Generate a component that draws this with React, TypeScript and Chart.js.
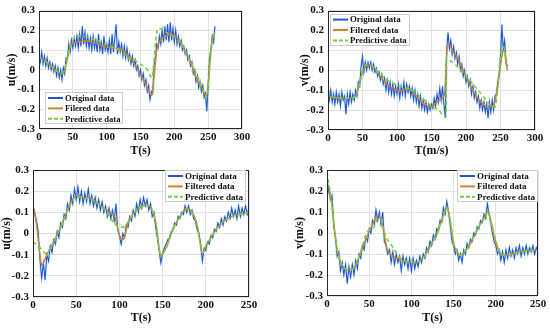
import React, { useEffect, useRef } from 'react';
import { Chart, registerables } from 'chart.js';
Chart.register(...registerables);

// ---------- data ----------
const ORIG_STEP = 2; // seconds between original samples

// Top-left: u(m/s), 0..260 s
const tlOrig = [
  0.08, 0.04, 0.09, 0.03, 0.07, 0.02, 0.06, 0.01, 0.04, 0.0,
  0.03, -0.01, 0.02, -0.03, 0.01, -0.04, 0.0, -0.05, 0.01, -0.02,
  0.06, 0.05, 0.13, 0.09, 0.15, 0.11, 0.16, 0.12, 0.17, 0.11,
  0.18, 0.12, 0.22, 0.13, 0.19, 0.12, 0.17, 0.11, 0.16, 0.10,
  0.17, 0.11, 0.15, 0.09, 0.18, 0.10, 0.14, 0.08, 0.17, 0.10,
  0.13, 0.09, 0.15, 0.08, 0.18, 0.09, 0.16, 0.23, 0.08, 0.14,
  0.09, 0.13, 0.07, 0.12, 0.06, 0.11, 0.05, 0.08, 0.03, 0.07,
  0.02, 0.05, 0.0, 0.02, -0.03, 0.0, -0.05, -0.02, -0.08, -0.05,
  -0.11, -0.08, -0.15, -0.11, -0.12, 0.02, 0.06, 0.13, 0.11, 0.17,
  0.13, 0.2, 0.14, 0.22, 0.15, 0.23, 0.14, 0.24, 0.15, 0.21,
  0.14, 0.2, 0.13, 0.17, 0.12, 0.15, 0.1, 0.12, 0.08, 0.1,
  0.05, 0.07, 0.02, 0.04, -0.02, 0.0, -0.06, -0.03, -0.09, -0.06,
  -0.11, -0.08, -0.14, -0.12, -0.21, -0.08, 0.06, 0.1, 0.17, 0.14,
  0.22,
];
const tlFiltT = [0, 10, 20, 30, 34, 38, 42, 46, 50, 60, 70, 80, 90, 100, 110, 120, 130, 139, 149, 158, 164, 167, 170, 174, 180, 188, 195, 205, 210, 215, 220, 225, 230, 235, 240, 245, 247, 250, 253, 256, 260];
const tlFiltV = [0.062, 0.042, 0.012, -0.015, -0.02, -0.005, 0.06, 0.115, 0.135, 0.143, 0.147, 0.14, 0.125, 0.115, 0.11, 0.108, 0.08, 0.04, -0.02, -0.075, -0.12, -0.13, -0.04, 0.1, 0.15, 0.172, 0.18, 0.16, 0.135, 0.1, 0.065, 0.03, -0.02, -0.06, -0.09, -0.12, -0.135, -0.08, 0.06, 0.15, 0.19];
const tlPredT = [0, 10, 20, 30, 34, 40, 46, 52, 58, 70, 80, 90, 100, 110, 120, 130, 134, 140, 150, 160, 167, 170, 173, 176, 182, 190, 200, 210, 220, 230, 240, 247, 250, 253, 256, 260];
const tlPredV = [0.062, 0.042, 0.012, -0.015, -0.02, 0.03, 0.12, 0.16, 0.172, 0.165, 0.155, 0.142, 0.128, 0.113, 0.097, 0.065, 0.055, 0.05, 0.028, 0.0, -0.04, 0.05, 0.17, 0.21, 0.205, 0.185, 0.165, 0.13, 0.07, 0.0, -0.08, -0.14, -0.09, 0.05, 0.14, 0.19];

// Top-right: v(m/s), 0..260 s
const trOrig = [
  -0.11, -0.15, -0.1, -0.16, -0.12, -0.17, -0.11, -0.16, -0.12, -0.18,
  -0.11, -0.15, -0.13, -0.22, -0.12, -0.17, -0.11, -0.16, -0.12, -0.15,
  -0.1, -0.13, -0.06, -0.08, 0.02, 0.07, -0.01, 0.04, 0.0, 0.04,
  0.01, 0.04, 0.0, 0.03, -0.01, 0.01, -0.03, -0.01, -0.05, -0.02,
  -0.07, -0.04, -0.1, -0.05, -0.11, -0.06, -0.12, -0.07, -0.13, -0.08,
  -0.12, -0.07, -0.14, -0.08, -0.12, -0.06, -0.13, -0.07, -0.11, -0.08,
  -0.13, -0.09, -0.15, -0.1, -0.16, -0.12, -0.18, -0.13, -0.19, -0.15,
  -0.2, -0.16, -0.21, -0.17, -0.2, -0.17, -0.19, -0.14, -0.18, -0.12,
  -0.16, -0.09, -0.15, -0.08, -0.17, -0.24, 0.1, 0.19, 0.11, 0.15,
  0.08, 0.12, 0.06, 0.09, 0.03, 0.07, 0.0, 0.03, -0.03, 0.0,
  -0.06, -0.03, -0.08, -0.05, -0.12, -0.08, -0.14, -0.11, -0.16, -0.13,
  -0.19, -0.15, -0.2, -0.16, -0.21, -0.17, -0.24, -0.16, -0.21, -0.15,
  -0.2, -0.13, -0.12, -0.06, -0.02, 0.06, 0.23, 0.1, 0.15, 0.04,
  0.02,
];
const trFiltT = [0, 10, 20, 30, 38, 42, 46, 50, 55, 60, 65, 70, 78, 85, 95, 104, 112, 119, 126, 133, 140, 148, 152, 160, 166, 169, 171, 173, 176, 180, 189, 196, 203, 210, 217, 225, 232, 238, 242, 245, 249, 252, 254, 256, 258, 260];
const trFiltV = [-0.13, -0.135, -0.14, -0.14, -0.135, -0.11, -0.06, -0.01, 0.02, 0.027, 0.018, 0.0, -0.04, -0.07, -0.09, -0.105, -0.095, -0.095, -0.12, -0.15, -0.17, -0.185, -0.18, -0.155, -0.14, -0.12, 0.02, 0.12, 0.13, 0.1, 0.055, 0.0, -0.055, -0.1, -0.14, -0.17, -0.185, -0.18, -0.16, -0.1, 0.0, 0.07, 0.1, 0.09, 0.04, 0.0];
const trPredT = [0, 5, 15, 30, 40, 45, 50, 58, 70, 85, 104, 119, 133, 150, 160, 171, 172, 176, 184, 203, 220, 242, 246, 250, 254, 256, 258];
const trPredV = [-0.1, -0.13, -0.14, -0.14, -0.13, -0.08, 0.0, 0.03, 0.0, -0.047, -0.08, -0.095, -0.13, -0.18, -0.2, -0.235, 0.055, 0.05, 0.03, -0.04, -0.11, -0.185, -0.09, 0.07, 0.12, 0.1, 0.05];

// Bottom-left: u(m/s), 0..250 s
const blOrig = [
  0.13, 0.1, 0.06, 0.01, -0.12, -0.21, -0.14, -0.22, -0.1, -0.13,
  -0.06, -0.09, -0.03, -0.05, 0.01, -0.02, 0.05, 0.03, 0.09, 0.07,
  0.14, 0.11, 0.18, 0.14, 0.21, 0.16, 0.22, 0.15, 0.2, 0.14,
  0.19, 0.15, 0.21, 0.14, 0.18, 0.13, 0.17, 0.12, 0.16, 0.11,
  0.15, 0.1, 0.13, 0.08, 0.12, 0.07, 0.11, 0.06, 0.14, 0.02,
  -0.01, -0.05, 0.0, -0.02, 0.04, 0.03, 0.08, 0.06, 0.11, 0.08,
  0.14, 0.1, 0.16, 0.12, 0.17, 0.13, 0.16, 0.11, 0.14, 0.08,
  0.1, 0.03, -0.02, -0.08, -0.14, -0.09, -0.07, -0.05, -0.03, -0.02,
  0.01, 0.02, 0.05, 0.04, 0.08, 0.07, 0.1, 0.09, 0.13, 0.1,
  0.13, 0.09, 0.11, 0.07, 0.06, 0.02, 0.0, -0.05, -0.13, -0.07,
  -0.08, -0.04, -0.05, -0.01, -0.02, 0.02, 0.01, 0.05, 0.03, 0.07,
  0.04, 0.08, 0.06, 0.1, 0.07, 0.12, 0.08, 0.11, 0.07, 0.13,
  0.08, 0.12, 0.09, 0.13, 0.09, 0.12,
];
const blFiltT = [0, 3, 5, 8, 10, 13, 16, 20, 25, 30, 35, 40, 45, 50, 55, 60, 65, 70, 80, 90, 95, 100, 103, 106, 110, 115, 120, 125, 130, 135, 140, 143, 145, 148, 151, 155, 160, 165, 170, 178, 185, 190, 193, 196, 200, 205, 210, 220, 230, 240, 250];
const blFiltV = [0.127, 0.07, 0.01, -0.1, -0.15, -0.13, -0.1, -0.07, -0.03, 0.01, 0.06, 0.11, 0.155, 0.18, 0.172, 0.167, 0.17, 0.158, 0.127, 0.097, 0.075, -0.007, -0.03, -0.015, 0.05, 0.09, 0.11, 0.128, 0.135, 0.13, 0.087, 0.03, -0.045, -0.11, -0.09, -0.06, 0.0, 0.045, 0.08, 0.12, 0.095, 0.04, -0.03, -0.095, -0.06, -0.025, 0.008, 0.056, 0.08, 0.092, 0.1];
const blPredT = [0, 5, 10, 15, 20, 25, 30, 35, 40, 45, 50, 55, 60, 65, 70, 80, 85, 90, 95, 100, 105, 110, 115, 120, 125, 130, 135, 140, 143, 145, 148, 151, 155, 160, 165, 170, 178, 185, 190, 193, 196, 200, 205, 210, 220, 230, 240, 250];
const blPredV = [-0.04, -0.055, -0.075, -0.095, -0.07, -0.03, 0.01, 0.06, 0.11, 0.15, 0.175, 0.17, 0.165, 0.165, 0.155, 0.125, 0.1, 0.07, 0.045, 0.03, 0.03, 0.055, 0.085, 0.11, 0.125, 0.133, 0.128, 0.087, 0.03, -0.04, -0.1, -0.09, -0.06, 0.0, 0.045, 0.08, 0.115, 0.09, 0.04, -0.03, -0.09, -0.06, -0.025, 0.008, 0.056, 0.08, 0.092, 0.1];

// Bottom-right: v(m/s), 0..250 s
const brOrig = [
  0.17, 0.22, 0.16, 0.18, 0.03, -0.02, -0.11, -0.09, -0.18, -0.14,
  -0.2, -0.15, -0.24, -0.16, -0.21, -0.15, -0.2, -0.13, -0.17, -0.1,
  -0.12, -0.06, -0.08, -0.02, -0.04, 0.02, 0.0, 0.06, 0.04, 0.11,
  0.06, 0.1, 0.04, 0.1, -0.04, -0.06, -0.1, -0.08, -0.14, -0.09,
  -0.15, -0.1, -0.14, -0.11, -0.18, -0.11, -0.15, -0.12, -0.17, -0.12,
  -0.18, -0.12, -0.17, -0.13, -0.16, -0.11, -0.14, -0.1, -0.12, -0.07,
  -0.09, -0.04, -0.06, -0.01, -0.03, 0.02, 0.01, 0.06, 0.05, 0.12,
  0.09, 0.15, 0.1, 0.04, -0.04, -0.06, -0.1, -0.08, -0.13, -0.1,
  -0.14, -0.08, -0.1, -0.05, -0.07, -0.03, -0.04, 0.0, -0.01, 0.03,
  0.02, 0.06, 0.05, 0.09, 0.07, 0.14, 0.09, 0.05, 0.0, -0.04,
  -0.06, -0.1, -0.08, -0.13, -0.09, -0.14, -0.08, -0.12, -0.07, -0.11,
  -0.08, -0.12, -0.07, -0.1, -0.06, -0.11, -0.07, -0.1, -0.06, -0.1,
  -0.07, -0.09, -0.06, -0.1, -0.07, -0.09,
];
const brFiltT = [0, 3, 5, 9, 13, 19, 27, 33, 39, 47, 55, 61, 65, 71, 78, 86, 94, 106, 112, 118, 126, 130, 134, 138, 142, 145, 150, 154, 158, 163, 169, 175, 181, 186, 191, 194, 199, 205, 210, 220, 229, 240, 250];
const brFiltV = [0.18, 0.2, 0.16, 0.01, -0.1, -0.16, -0.175, -0.16, -0.105, -0.02, 0.05, 0.085, 0.05, -0.07, -0.11, -0.125, -0.135, -0.14, -0.125, -0.095, -0.035, -0.01, 0.04, 0.086, 0.125, 0.08, -0.048, -0.09, -0.105, -0.09, -0.057, -0.01, 0.038, 0.07, 0.105, 0.06, -0.03, -0.095, -0.105, -0.1, -0.09, -0.085, -0.08];
const brPredT = [0, 3, 5, 9, 13, 19, 27, 33, 39, 47, 52, 56, 60, 63, 66, 70, 75, 80, 85, 90, 94, 106, 112, 118, 126, 130, 134, 138, 142, 145, 150, 154, 158, 163, 169, 175, 181, 186, 191, 194, 199, 205, 210, 220, 229, 240, 250];
const brPredV = [0.29, 0.21, 0.16, 0.01, -0.1, -0.16, -0.175, -0.16, -0.1, 0.0, 0.02, 0.03, 0.07, 0.07, 0.03, -0.02, -0.05, -0.08, -0.11, -0.13, -0.135, -0.14, -0.125, -0.095, -0.035, -0.01, 0.04, 0.086, 0.12, 0.08, -0.048, -0.09, -0.105, -0.09, -0.057, -0.01, 0.038, 0.07, 0.1, 0.06, -0.02, -0.09, -0.105, -0.1, -0.09, -0.085, -0.08];

const legendTL = ['Original data', 'Filered data', 'Predictive data'];
const legendStd = ['Original data', 'Filtered data', 'Predictive data'];

// ---------- style ----------
const BLUE = '#2a52cc';
const HALO = 'rgba(120,225,255,0.28)';
const ORANGE = '#cf8230';
const GREEN = '#74d13c';
const FONT = "'Liberation Serif', 'Times New Roman', serif";
const TXT = '#111111';

type Panel = {
  yTitle: string;
  xTitle: string;
  xMax: number;
  orig: number[];
  filtT: number[];
  filtV: number[];
  predT: number[];
  predV: number[];
  labels: string[];
  plot: { l: number; t: number; r: number; b: number };
  padLeft: number;
  axisBottom: number;
  legend: { corner: 'bl' | 'tl' | 'tr'; dx: number; dy: number; font: number };
};

const panels: Panel[] = [
  {
    yTitle: 'u(m/s)', xTitle: 'T(s)', xMax: 300, orig: tlOrig,
    filtT: tlFiltT, filtV: tlFiltV, predT: tlPredT, predV: tlPredV, labels: legendTL,
    plot: { l: 39, t: 8, r: 242, b: 129 }, padLeft: 5, axisBottom: 158,
    legend: { corner: 'bl', dx: 6, dy: 5, font: 8.6 },
  },
  {
    yTitle: 'v(m/s)', xTitle: 'T(m/s)', xMax: 300, orig: trOrig,
    filtT: trFiltT, filtV: trFiltV, predT: trPredT, predV: trPredV, labels: legendStd,
    plot: { l: 328, t: 7, r: 535, b: 130 }, padLeft: 298, axisBottom: 158,
    legend: { corner: 'tl', dx: 2, dy: 3, font: 8.8 },
  },
  {
    yTitle: 'u(m/s)', xTitle: 'T(s)', xMax: 250, orig: blOrig,
    filtT: blFiltT, filtV: blFiltV, predT: blPredT, predV: blPredV, labels: legendStd,
    plot: { l: 33, t: 170, r: 249, b: 297 }, padLeft: 0, axisBottom: 325,
    legend: { corner: 'tr', dx: 3, dy: 0, font: 9 },
  },
  {
    yTitle: 'v(m/s)', xTitle: 'T(s)', xMax: 250, orig: brOrig,
    filtT: brFiltT, filtV: brFiltV, predT: brPredT, predV: brPredV, labels: legendStd,
    plot: { l: 327, t: 170, r: 538, b: 296 }, padLeft: 293, axisBottom: 325,
    legend: { corner: 'tr', dx: 0, dy: 0, font: 9 },
  },
];

const framePlugin = {
  id: 'frameBox',
  afterDatasetsDraw(chart: any) {
    const { ctx, chartArea: ca } = chart;
    ctx.save();
    ctx.strokeStyle = '#262626';
    ctx.lineWidth = 1;
    ctx.strokeRect(Math.round(ca.left) + 0.5, Math.round(ca.top) + 0.5, Math.round(ca.right - ca.left) - 1, Math.round(ca.bottom - ca.top) - 1);
    ctx.restore();
  },
};

const legendPlugin = {
  id: 'boxLegend',
  afterDraw(chart: any, _args: any, opts: any) {
    if (!opts || !opts.items) return;
    const { ctx, chartArea: ca } = chart;
    const items = opts.items as { text: string; color: string; dash: number[] }[];
    ctx.save();
    ctx.font = `bold ${opts.font}px ${FONT}`;
    const tw = Math.max(...items.map((i) => ctx.measureText(i.text).width));
    const lineLen = 15, padL = 3, gap = 2, padR = 3, rowH = 10.4;
    const w = padL + lineLen + gap + tw + padR;
    const h = 32;
    let x: number, y: number;
    if (opts.corner === 'bl') { x = ca.left + opts.dx; y = ca.bottom - opts.dy - h; }
    else if (opts.corner === 'tl') { x = ca.left + opts.dx; y = ca.top + opts.dy; }
    else { x = ca.right - opts.dx - w; y = ca.top + opts.dy; }
    ctx.fillStyle = '#ffffff';
    ctx.fillRect(x, y, w, h);
    ctx.strokeStyle = '#cccccc';
    ctx.lineWidth = 1;
    ctx.strokeRect(Math.round(x) + 0.5, Math.round(y) + 0.5, Math.round(w) - 1, h - 1);
    items.forEach((it, i) => {
      const cy = y + 6 + i * rowH;
      ctx.setLineDash(it.dash);
      ctx.strokeStyle = it.color;
      ctx.lineWidth = 2;
      ctx.beginPath();
      ctx.moveTo(x + padL, cy);
      ctx.lineTo(x + padL + lineLen, cy);
      ctx.stroke();
      ctx.setLineDash([]);
      ctx.fillStyle = TXT;
      ctx.textBaseline = 'middle';
      ctx.textAlign = 'left';
      ctx.fillText(it.text, x + padL + lineLen + gap, cy + 0.5);
    });
    ctx.restore();
  },
};

function toPoints(ts: number[], vs: number[]) {
  return vs.map((v, i) => ({ x: ts[i], y: v }));
}
function stepPoints(vs: number[]) {
  return vs.map((v, i) => ({ x: i * ORIG_STEP, y: v }));
}
function fmtTick(v: number) {
  const r = Math.round(v * 10) / 10;
  return Math.abs(r) < 1e-9 ? '0' : String(r);
}

function PanelChart({ p }: { p: Panel }) {
  const ref = useRef<HTMLCanvasElement>(null);
  useEffect(() => {
    if (!ref.current) return;
    const origPts = stepPoints(p.orig);
    const tickFont = { family: FONT, weight: 'bold' as const, size: 11 };
    const titleFont = { family: FONT, weight: 'bold' as const, size: 12 };
    const chart = new Chart(ref.current, {
      type: 'line',
      data: {
        datasets: [
          { label: p.labels[2], data: toPoints(p.predT, p.predV), borderColor: GREEN, borderDash: [4, 3], borderWidth: 1.6, pointRadius: 0, cubicInterpolationMode: 'monotone', order: 0 } as any,
          { label: p.labels[1], data: toPoints(p.filtT, p.filtV), borderColor: ORANGE, borderWidth: 1.4, pointRadius: 0, cubicInterpolationMode: 'monotone', order: 1 } as any,
          { label: p.labels[0], data: origPts, borderColor: BLUE, borderWidth: 1.1, pointRadius: 0, tension: 0, order: 2 } as any,
          { label: 'halo', data: origPts, borderColor: HALO, borderWidth: 3, pointRadius: 0, tension: 0, borderJoinStyle: 'round', order: 3 } as any,
        ],
      },
      options: {
        animation: false,
        responsive: false,
        devicePixelRatio: 1,
        events: [],
        layout: {
          padding: { left: p.padLeft, top: p.plot.t, right: 550 - p.plot.r, bottom: 328 - p.axisBottom },
        },
        scales: {
          x: {
            type: 'linear', min: 0, max: p.xMax,
            ticks: { stepSize: 50, padding: 2, font: tickFont, color: TXT, maxRotation: 0, autoSkip: false },
            grid: { color: '#e2e2e2', drawTicks: false },
            border: { display: false },
            title: { display: true, text: p.xTitle, font: titleFont, color: TXT, padding: { top: 0, bottom: 0 } },
            afterFit: (s: any) => { s.height = p.axisBottom - p.plot.b; },
          },
          y: {
            type: 'linear', min: -0.3, max: 0.3,
            ticks: { stepSize: 0.1, padding: 4, font: tickFont, color: TXT, callback: (v: any) => fmtTick(Number(v)) },
            grid: { color: '#e2e2e2', drawTicks: false },
            border: { display: false },
            title: { display: true, text: p.yTitle, font: titleFont, color: TXT, padding: { top: 0, bottom: 0 } },
            afterFit: (s: any) => { s.width = p.plot.l - p.padLeft; },
          },
        },
        plugins: {
          legend: { display: false },
          tooltip: { enabled: false },
          boxLegend: {
            corner: p.legend.corner, dx: p.legend.dx, dy: p.legend.dy, font: p.legend.font,
            items: [
              { text: p.labels[0], color: BLUE, dash: [] },
              { text: p.labels[1], color: ORANGE, dash: [] },
              { text: p.labels[2], color: GREEN, dash: [4, 2] },
            ],
          },
        } as any,
      },
      plugins: [framePlugin, legendPlugin],
    } as any);
    return () => chart.destroy();
  }, [p]);
  return (
    <canvas
      ref={ref}
      width={550}
      height={328}
      style={{ position: 'absolute', left: 0, top: 0, width: 550, height: 328 }}
    />
  );
}

export default function App() {
  return (
    <div style={{ position: 'fixed', left: 0, top: 0, width: 550, height: 328, background: '#ffffff', overflow: 'hidden' }}>
      {panels.map((p, i) => (
        <PanelChart key={i} p={p} />
      ))}
    </div>
  );
}
